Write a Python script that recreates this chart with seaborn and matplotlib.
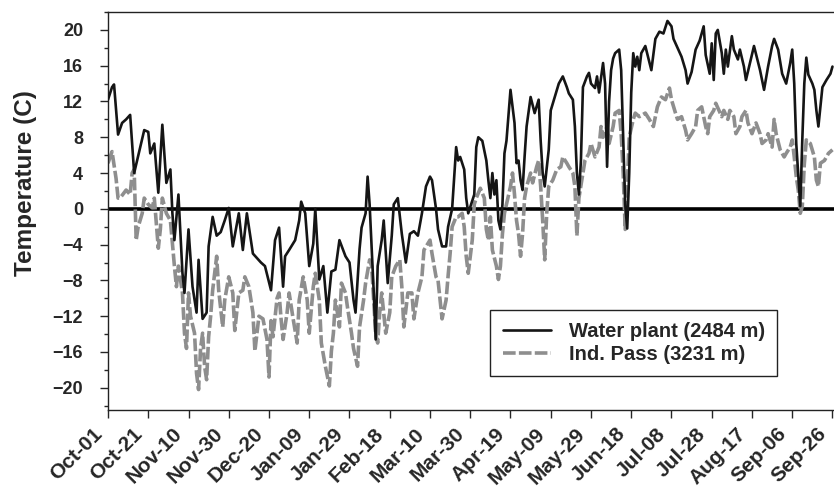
import matplotlib
matplotlib.use("Agg")
import matplotlib.pyplot as plt
import matplotlib.transforms as mtransforms
import seaborn as sns
import pandas as pd
from matplotlib.ticker import MultipleLocator

# ---------------- data (day index from Oct-01, temperature in C) ----------------
wp_day = [0, 2, 3, 5, 7, 9, 11, 13, 18, 20, 21, 23, 25, 27, 29, 31, 32, 33, 35, 37, 38, 40, 42, 44, 45, 47, 49, 50,
          52, 54, 56, 58, 60, 62, 65, 67, 69, 72, 76, 78, 81, 83, 85, 87, 88, 90, 93, 95, 96, 98, 100, 102, 103, 105,
          107, 109, 111, 113, 115, 118, 120, 122, 123, 125, 126, 128, 129, 130, 132, 133, 134, 136, 137, 139, 141,
          142, 144, 146, 148, 150, 152, 154, 156, 158, 160, 161, 163, 164, 166, 168, 169, 171, 173, 174, 175, 177,
          178, 179, 182, 183, 184, 186, 188, 189, 190, 191, 192, 193, 194, 195, 196, 197, 198, 200, 202, 203, 204,
          205, 206, 207, 208, 210, 212, 214, 215, 216, 217, 219, 220, 222, 224, 226, 228, 229, 231, 232, 233, 234,
          235, 236, 238, 239, 240, 242, 243, 244, 246, 247, 248, 249, 250, 251, 252, 253, 254, 255, 256, 257, 258,
          259, 260, 261, 262, 263, 264, 265, 267, 268, 270, 272, 274, 276, 278, 280, 281, 283, 285, 287, 288, 290,
          292, 294, 296, 297, 299, 300, 301, 302, 303, 305, 306, 307, 308, 310, 311, 313, 314, 316, 317, 319, 321,
          324, 326, 328, 330, 331, 333, 335, 337, 339, 340, 341, 342, 344, 345, 346, 347, 348, 350, 351, 352, 353,
          355, 357, 359, 360]
wp_temp = [12.2, 13.6, 13.9, 8.3, 9.6, 10.0, 10.5, 4.0, 8.8, 8.6, 6.2, 7.3, 1.8, 9.4, 2.9, 4.4, -0.5, -3.5, 1.6,
           -7.2, -9.4, -2.3, -8.7, -11.6, -5.7, -12.3, -11.6, -4.2, -0.9, -3.0, -2.6, -1.3, 0.1, -4.2, -0.5, -4.6,
           -0.5, -5.0, -6.0, -6.4, -9.1, -3.5, -2.1, -8.7, -5.3, -4.6, -3.5, -1.3, 0.8, -0.5, -6.4, -3.9, 0.0, -7.9,
           -6.4, -11.6, -7.0, -6.8, -3.5, -5.3, -6.0, -10.2, -11.6, -4.5, -2.1, -0.5, 3.6, 0.5, -9.1, -14.6, -6.4,
           -3.5, -1.3, -8.3, -3.0, 0.5, 1.2, -2.8, -6.0, -2.8, -2.5, -3.0, -0.5, 2.5, 3.6, 3.2, 0.0, -2.3, -4.2,
           -4.2, -2.0, 0.0, 6.9, 5.4, 5.8, 4.4, 1.2, -0.5, 1.6, 6.9, 8.0, 7.6, 5.4, 3.2, 1.2, 4.0, 1.6, 3.2, -1.3,
           -2.3, 0.5, 6.2, 7.6, 13.3, 9.6, 5.1, 5.4, 3.2, 2.1, 5.8, 9.2, 12.5, 10.7, 12.2, 7.6, 4.0, 2.5, 6.6, 11.0,
           12.5, 14.0, 14.8, 13.6, 12.9, 12.2, 9.2, 4.0, 1.6, 5.4, 13.6, 14.8, 15.2, 14.0, 13.5, 14.8, 13.0, 16.3,
           14.0, 4.7, 12.0, 15.5, 16.8, 17.4, 17.6, 17.8, 15.5, 8.0, 0.5, -2.2, 4.0, 13.0, 17.4, 15.9, 17.0, 15.5,
           17.4, 18.2, 17.3, 15.5, 19.0, 19.8, 19.6, 21.0, 20.4, 19.0, 18.0, 17.0, 15.5, 14.0, 15.3, 17.8, 18.8,
           20.4, 17.2, 15.1, 18.5, 14.4, 19.6, 20.0, 17.4, 15.1, 17.8, 15.9, 19.3, 17.8, 16.7, 17.8, 15.9, 14.4,
           16.3, 18.2, 15.5, 13.3, 15.9, 18.2, 19.0, 17.8, 15.1, 14.0, 16.3, 17.8, 14.0, 7.3, 0.3, 7.7, 14.0, 16.9,
           15.0, 14.0, 13.3, 11.0, 9.2, 13.6, 14.4, 15.1, 15.9]

ip_day = [0, 2, 4, 5, 6, 9, 11, 12, 13, 14, 15, 17, 18, 20, 22, 23, 25, 26, 27, 29, 31, 32, 33, 34, 35, 37, 38, 39,
          40, 41, 43, 44, 45, 46, 47, 48, 49, 50, 51, 52, 54, 55, 57, 58, 60, 62, 63, 65, 67, 68, 70, 72, 73, 75, 77,
          79, 80, 81, 82, 84, 85, 86, 87, 89, 90, 92, 94, 95, 97, 99, 100, 102, 103, 105, 106, 108, 110, 111, 112,
          113, 114, 115, 116, 118, 119, 121, 122, 124, 125, 127, 128, 130, 131, 133, 134, 135, 136, 138, 140, 141,
          143, 145, 146, 147, 149, 151, 152, 154, 156, 157, 160, 161, 163, 164, 166, 168, 169, 170, 171, 173, 174,
          176, 177, 178, 179, 181, 182, 183, 185, 187, 188, 189, 190, 191, 193, 194, 195, 196, 197, 198, 200, 201,
          202, 203, 204, 205, 206, 207, 208, 210, 211, 213, 214, 215, 216, 217, 218, 219, 221, 223, 225, 226, 228,
          229, 231, 232, 233, 234, 236, 237, 239, 240, 242, 244, 245, 246, 248, 249, 251, 252, 254, 255, 256, 257,
          258, 259, 261, 262, 264, 267, 269, 271, 273, 275, 277, 279, 280, 282, 283, 285, 287, 288, 290, 292, 293,
          295, 297, 298, 299, 301, 302, 305, 306, 308, 309, 311, 312, 314, 315, 317, 318, 320, 322, 324, 325, 327,
          328, 330, 331, 332, 334, 336, 337, 339, 340, 341, 342, 343, 344, 345, 346, 347, 349, 351, 352, 353, 354,
          356, 358, 360]
ip_temp = [5.1, 6.4, 3.4, 1.2, 1.2, 2.1, 1.6, 4.0, 4.4, -3.5, -2.0, -0.5, 1.2, 0.5, 0.1, 1.2, -4.4, -2.3, 1.2,
           -0.5, -1.3, -3.9, -6.4, -8.7, -6.4, -9.4, -13.9, -15.6, -9.4, -12.0, -13.9, -18.4, -20.2, -15.6, -13.9,
           -17.6, -19.1, -14.3, -12.0, -9.1, -5.3, -9.1, -13.2, -10.2, -7.6, -9.4, -13.6, -9.4, -9.1, -7.6, -8.7,
           -11.6, -15.9, -12.0, -12.3, -14.6, -18.8, -12.5, -14.3, -10.0, -9.4, -12.3, -14.6, -11.6, -9.4, -12.3,
           -15.0, -10.2, -7.6, -10.2, -13.9, -8.7, -7.2, -10.2, -15.0, -17.6, -19.8, -15.9, -13.9, -10.2, -11.6,
           -13.2, -8.3, -9.4, -11.0, -13.9, -15.6, -17.6, -13.2, -10.2, -8.3, -5.7, -6.4, -13.9, -15.0, -11.6,
           -9.4, -13.9, -11.6, -7.6, -6.4, -5.7, -8.7, -13.2, -9.4, -9.4, -12.3, -9.4, -7.6, -4.6, -3.5, -5.0,
           -7.6, -8.0, -12.3, -10.2, -7.5, -5.0, -2.0, -0.9, -0.9, -0.5, -2.0, -5.3, -7.2, -3.5, 0.5, 1.2, 2.3, 1.2,
           -2.3, -3.5, -0.9, -4.6, -6.4, -7.9, -6.4, -2.8, -0.5, 0.5, 2.5, 4.0, 1.6, -1.3, -2.8, -5.3, -2.8, 1.2,
           2.5, 4.0, 2.9, 4.7, 5.4, 2.5, -1.3, -5.7, -0.5, 2.5, 3.2, 4.4, 4.7, 5.8, 5.1, 4.7, 4.0, 2.5, -3.0, 1.2,
           4.0, 5.4, 6.2, 7.3, 5.8, 6.9, 9.2, 8.0, 9.2, 7.3, 9.2, 10.7, 11.0, 8.4, 4.0, -2.3, 2.5, 8.0, 10.0, 10.7,
           10.3, 10.7, 10.0, 9.2, 11.4, 12.5, 12.2, 13.5, 12.2, 10.7, 10.0, 10.3, 8.8, 7.7, 8.4, 9.2, 11.0, 11.4,
           9.2, 8.4, 10.3, 11.0, 11.8, 10.3, 11.0, 10.0, 11.0, 10.3, 8.4, 9.2, 10.3, 11.0, 9.6, 8.4, 9.6, 8.4, 7.3,
           7.7, 8.4, 6.9, 10.0, 8.4, 6.6, 5.8, 6.2, 6.9, 7.7, 5.8, 3.6, 2.1, -0.5, 0.3, 5.0, 7.7, 7.3, 5.8, 3.2,
           2.5, 5.1, 5.4, 6.2, 6.6]

tick_days = list(range(0, 361, 20))
tick_labels = ["Oct-01", "Oct-21", "Nov-10", "Nov-30", "Dec-20", "Jan-09", "Jan-29", "Feb-18", "Mar-10",
               "Mar-30", "Apr-19", "May-09", "May-29", "Jun-18", "Jul-08", "Jul-28", "Aug-17", "Sep-06", "Sep-26"]
series_names = ["Water plant (2484 m)", "Ind. Pass (3231 m)"]

# ---------------- plot ----------------
sns.set_theme(style="white")
plt.rcParams["font.family"] = ["Liberation Sans", "DejaVu Sans"]
plt.rcParams["font.weight"] = "bold"

wp_df = pd.DataFrame({"day": wp_day, "temp": wp_temp})
ip_df = pd.DataFrame({"day": ip_day, "temp": ip_temp})

fig = plt.figure(figsize=(8.34, 4.90), dpi=100)
ax = fig.add_axes([0.1295, 0.163, 0.8735, 0.8125])

ax.axhline(0, color="black", lw=2.6, zorder=1)
sns.lineplot(data=wp_df, x="day", y="temp", ax=ax, color="#151515", lw=1.9,
             estimator=None, sort=False, label=series_names[0], zorder=3)
sns.lineplot(data=ip_df, x="day", y="temp", ax=ax, color="#8e8e8e", lw=2.6,
             estimator=None, sort=False, label=series_names[1], zorder=2,
             linestyle=(0, (3.5, 0.9)))

ax.set_xlim(0, 362)
ax.set_ylim(-22.5, 22)
ax.set_xticks(tick_days)
ax.yaxis.set_major_locator(MultipleLocator(4))
ax.yaxis.set_minor_locator(MultipleLocator(2))
ax.tick_params(axis="y", which="major", direction="out", length=6, width=1, labelsize=13, left=True, pad=12)
ax.tick_params(axis="y", which="minor", direction="out", length=3, width=1, left=True)
ax.tick_params(axis="x", which="major", direction="out", length=6, width=1, bottom=True, pad=9)
ax.set_xticklabels(tick_labels, rotation=45, ha="right", va="center", rotation_mode="anchor",
                   fontsize=15, fontweight="bold")
shift = mtransforms.ScaledTranslation(-9 / 100, 0, fig.dpi_scale_trans)
for lab in ax.get_xticklabels():
    lab.set_transform(lab.get_transform() + shift)
for lab in ax.get_yticklabels():
    lab.set_fontweight("bold")
ax.set_xlabel("")
ax.set_ylabel("Temperature (C)", fontsize=17.5, fontweight="bold")
ax.yaxis.set_label_coords(-0.098, 0.57)

for side in ["left", "bottom", "top"]:
    ax.spines[side].set_color("#222222")
    ax.spines[side].set_linewidth(1.0)
ax.spines["right"].set_visible(False)

leg = ax.legend(loc="lower left", bbox_to_anchor=(0.525, 0.085), frameon=True, fancybox=False,
                edgecolor="#222222", framealpha=1, prop={"weight": "bold", "size": 14.5},
                handlelength=2.4, handletextpad=0.9, borderpad=0.6, labelspacing=0.2,
                borderaxespad=0)
leg.get_frame().set_linewidth(1.0)

fig.savefig("out.png", dpi=100)
